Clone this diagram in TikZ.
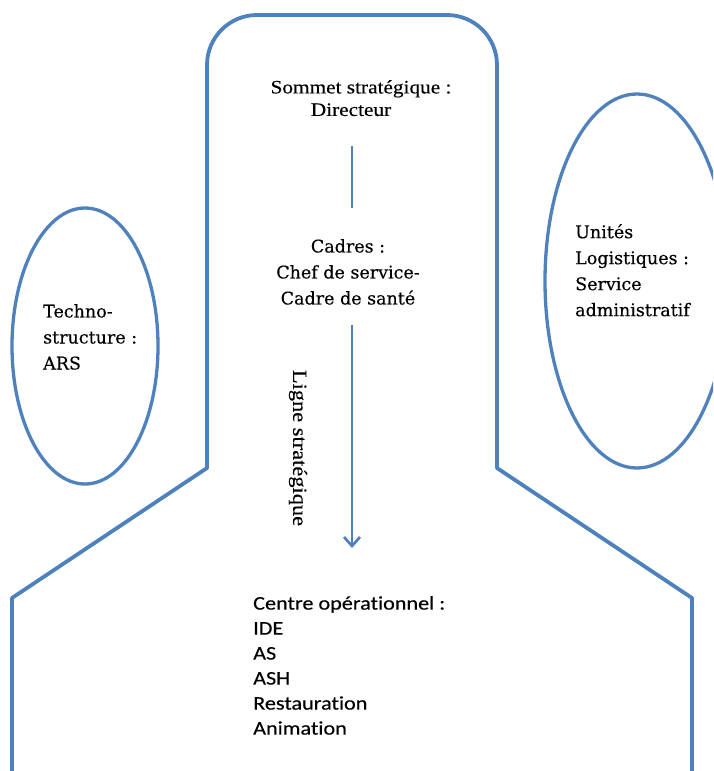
\documentclass[tikz,border=0pt]{standalone}
\usepackage{fontspec}
\setmainfont{Liberation Serif}
\newfontfamily\timesfont[FakeStretch=1.12,FakeBold=0.3]{Liberation Serif}
\newfontfamily\cambfont[FakeBold=0.3,Ligatures=NoCommon]{DejaVu Serif}
\newfontfamily\calfont[FakeStretch=1.15,FakeBold=0.3,Ligatures=NoCommon]{Carlito}
\usetikzlibrary{shapes.geometric,arrows.meta}
\definecolor{orgblue}{RGB}{79,129,189}

\begin{document}
\begin{tikzpicture}[x=1pt,y=-1pt,
  outline/.style={draw=orgblue,line width=3.8pt,line join=round},
  zone/.style={ellipse,draw=orgblue,line width=3.3pt,inner sep=0},
  txt/.style={inner sep=0,text=black},
  flow/.style={draw=orgblue,line width=2.7pt},
  serifA/.style={font=\timesfont\fontsize{19}{22.5}\selectfont},
  serifB/.style={font=\cambfont\fontsize{17.5}{26}\selectfont},
  sansC/.style={font=\calfont\fontsize{19.3}{25}\selectfont},
]
\useasboundingbox (0,0) rectangle (713,771);
\clip (0,0) rectangle (713,771);

% outline of the organisation: rounded top, shoulders, wide base
\draw[outline] (12,776) -- (12,598) -- (207,468) -- (207,65)
  arc[start angle=180,end angle=270,radius=50] -- (447,15)
  arc[start angle=270,end angle=360,radius=50] -- (497,468)
  -- (692,598) -- (692,776);

% side ellipses
\node[zone,minimum width=146,minimum height=276] (techzone) at (85,346) {};
\node[zone,minimum width=184,minimum height=374] (logzone) at (637,281) {};

% texts
\node[txt,serifA,align=center,anchor=north] (sommet) at (361,80)
  {Sommet stratégique :\\Directeur\hspace*{20pt}};
\node[txt,serifB,align=center,anchor=north] (cadres) at (348,239)
  {Cadres :\\Chef de service-\\Cadre de santé};
\node[txt,serifB,align=left,anchor=north west] (techno) at (43,304)
  {Techno-\\structure :\\ARS};
\node[txt,serifB,align=left,anchor=north west] (logist) at (575,224)
  {Unités\\Logistiques :\\Service\\administratif};
\node[txt,sansC,align=left,anchor=north west] (centre) at (253,596)
  {Centre opérationnel :\\IDE\\AS\\ASH\\Restauration\\Animation};
\node[txt,font=\timesfont\fontsize{20}{24}\selectfont,rotate=-90] (ligne) at (298,448)
  {Ligne stratégique};

% vertical axis of the hierarchy
\coordinate (axis) at (352,0);
\draw[flow,shorten <=30pt,shorten >=31pt] (sommet.south -| axis) -- (cadres.north -| axis);
\draw[flow,shorten <=20pt,shorten >=48pt,-{Straight Barb[length=9pt,width=16pt]}]
  (cadres.south -| axis) -- (centre.north -| axis);
\end{tikzpicture}
\end{document}
